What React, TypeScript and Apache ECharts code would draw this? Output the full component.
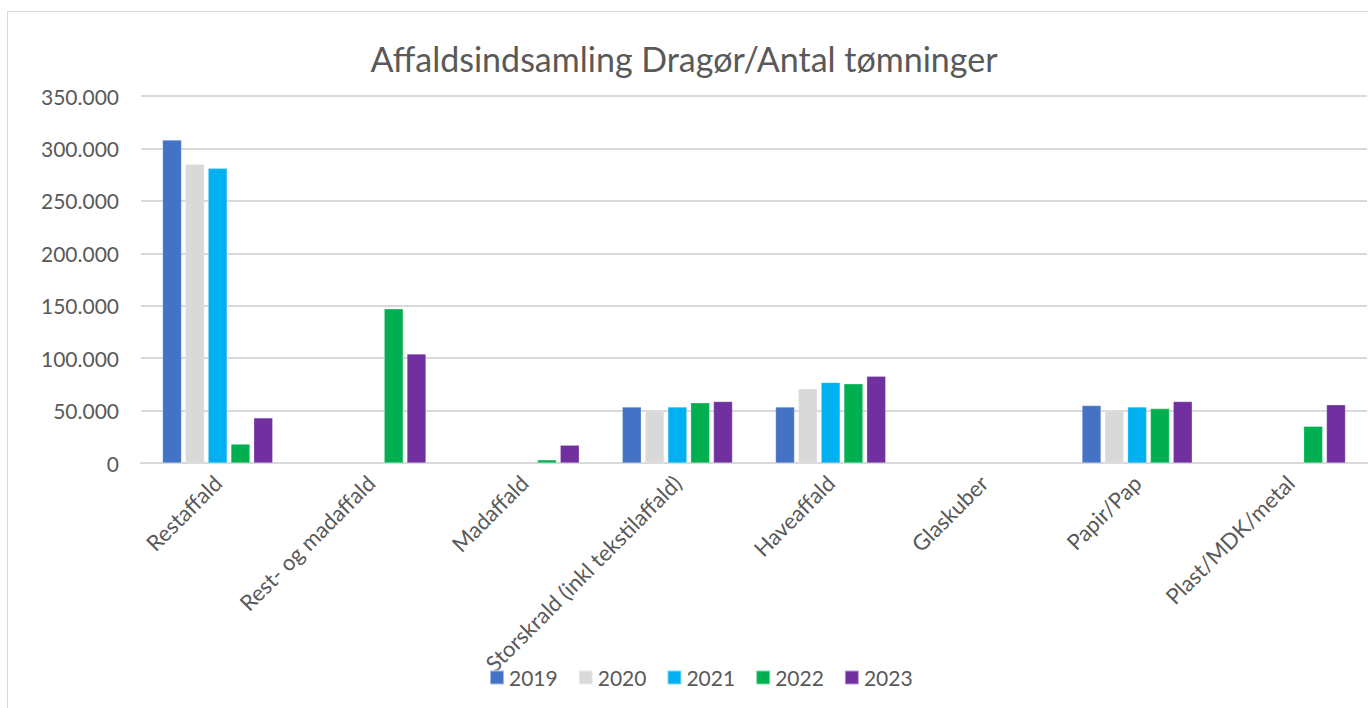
import React, { useEffect, useRef } from "react";
import * as echarts from "echarts";

const categories = [
  "Restaffald",
  "Rest- og madaffald",
  "Madaffald",
  "Storskrald (inkl tekstilaffald)",
  "Haveaffald",
  "Glaskuber",
  "Papir/Pap",
  "Plast/MDK/metal",
];
const years = ["2019", "2020", "2021", "2022", "2023"];
const colors = ["#4472C4", "#D9D9D9", "#00B0F0", "#00B050", "#7030A0"];
const v2019 = [308000, null, null, 53500, 53500, null, 54800, null];
const v2020 = [285000, null, null, 50000, 70700, null, 50000, null];
const v2021 = [281000, null, null, 53500, 76800, null, 53500, null];
const v2022 = [18000, 147000, 3000, 57400, 75500, null, 51900, 35000];
const v2023 = [43000, 104000, 17000, 58600, 82800, null, 58600, 55500];
const seriesValues = [v2019, v2020, v2021, v2022, v2023];
const yTicks = { min: 0, max: 350000, interval: 50000 };

const fmt = (v: number) => String(v).replace(/\B(?=(\d{3})+(?!\d))/g, ".");

export default function App() {
  const ref = useRef<HTMLDivElement>(null);
  useEffect(() => {
    const chart = echarts.init(ref.current!, null, { renderer: "svg" });
    const font = "Lato, 'Open Sans', sans-serif";
    chart.setOption({
      animation: false,
      backgroundColor: "#ffffff",
      textStyle: { fontFamily: font },
      title: {
        text: "Affaldsindsamling Dragør/Antal tømninger",
        left: "center",
        top: 36,
        textStyle: { fontSize: 34, fontWeight: "normal", color: "#595959", fontFamily: font },
      },
      legend: {
        data: years,
        left: 484,
        top: 662,
        icon: "rect",
        itemWidth: 14,
        itemHeight: 14,
        itemGap: 20,
        textStyle: { fontSize: 21, color: "#595959", fontFamily: font },
      },
      grid: { left: 141, right: 1, top: 96, bottom: 245, containLabel: false },
      xAxis: {
        type: "category",
        data: categories,
        axisLine: { show: true, lineStyle: { color: "#D9D9D9", width: 2 } },
        axisTick: { show: false },
        axisLabel: {
          rotate: 45,
          fontSize: 22,
          color: "#595959",
          margin: 16,
          interval: 0,
          fontFamily: font,
        },
      },
      yAxis: {
        type: "value",
        min: yTicks.min,
        max: yTicks.max,
        interval: yTicks.interval,
        axisLine: { show: false },
        axisTick: { show: false },
        splitLine: { lineStyle: { color: "#D9D9D9", width: 2 } },
        axisLabel: {
          fontSize: 21,
          color: "#595959",
          margin: 22,
          fontFamily: font,
          formatter: (v: number) => fmt(v),
        },
      },
      series: years.map((y, i) => ({
        name: y,
        type: "bar",
        data: seriesValues[i],
        barWidth: 19,
        barGap: "20%",
        itemStyle: { color: colors[i], borderColor: "rgba(255,255,255,0.5)", borderWidth: 0.5 },
      })),
    });
    return () => chart.dispose();
  }, []);
  return (
    <div
      style={{
        position: "absolute",
        left: 0,
        top: 0,
        width: 1368,
        height: 708,
        background: "#fff",
      }}
    >
      <div
        style={{
          position: "absolute",
          left: 7,
          top: 11,
          width: 1368,
          height: 700,
          border: "1px solid #D9D9D9",
          boxSizing: "border-box",
          pointerEvents: "none",
          zIndex: 2,
        }}
      />
      <div ref={ref} style={{ position: "absolute", left: 0, top: 0, width: 1368, height: 708 }} />
    </div>
  );
}
